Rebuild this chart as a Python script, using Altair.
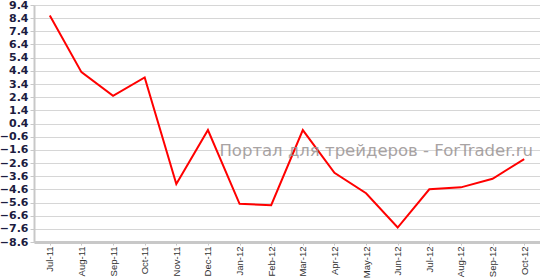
import altair as alt
import pandas as pd

months = ["Jul-11", "Aug-11", "Sep-11", "Oct-11", "Nov-11", "Dec-11", "Jan-12", "Feb-12",
          "Mar-12", "Apr-12", "May-12", "Jun-12", "Jul-12", "Aug-12", "Sep-12", "Oct-12"]
values = [8.6, 4.3, 2.5, 3.9, -4.2, -0.1, -5.7, -5.8,
          -0.1, -3.35, -4.9, -7.5, -4.6, -4.45, -3.8, -2.3]
y_ticks = [9.4, 8.4, 7.4, 6.4, 5.4, 4.4, 3.4, 2.4, 1.4, 0.4, -0.6, -1.6, -2.6,
           -3.6, -4.6, -5.6, -6.6, -7.6, -8.6]
watermark = "Портал для трейдеров - ForTrader.ru"

df = pd.DataFrame({"month": months, "value": values})

x_enc = alt.X("month:N", sort=months, title=None,
              scale=alt.Scale(type="point", padding=0.5),
              axis=alt.Axis(labelAngle=-90, labelFont="Liberation Sans", labelFontSize=9.5,
                            labelColor="#333333", labelPadding=1, tickSize=3,
                            tickColor="#c8c8c8", domainColor="#c8c8c8", domainWidth=3,
                            gridColor="#d6d6d6", gridWidth=1, labelBaseline="middle",
                            labelAlign="right"))
y_enc = alt.Y("value:Q", title=None,
              scale=alt.Scale(domain=[-8.6, 9.4], nice=False, zero=False),
              axis=alt.Axis(values=y_ticks, format=".1f", labelFont="DejaVu Sans",
                            labelFontSize=11, labelFontWeight="bold", labelColor="#1c1c40",
                            labelPadding=2, tickSize=4, tickColor="#c8c8c8",
                            domainColor="#c8c8c8", domainWidth=2,
                            gridColor="#d6d6d6", gridWidth=1))

line = alt.Chart(df).mark_line(color="#ff0000", strokeWidth=2).encode(x=x_enc, y=y_enc)

text = alt.Chart(pd.DataFrame({"t": [watermark]})).mark_text(
    font="DejaVu Sans", fontSize=16.5, color="#9a9494", opacity=0.85,
    align="right", baseline="alphabetic"
).encode(text="t:N", x=alt.value(499), y=alt.value(151))

chart = (line + text).properties(
    width=506, height=237,
    padding={"left": 34, "top": 5, "right": 0, "bottom": 37},
    autosize=alt.AutoSizeParams(type="none"),
).configure_view(stroke=None).configure(background="white")

chart.save("out.html", embed_options={"renderer": "svg", "actions": False})
